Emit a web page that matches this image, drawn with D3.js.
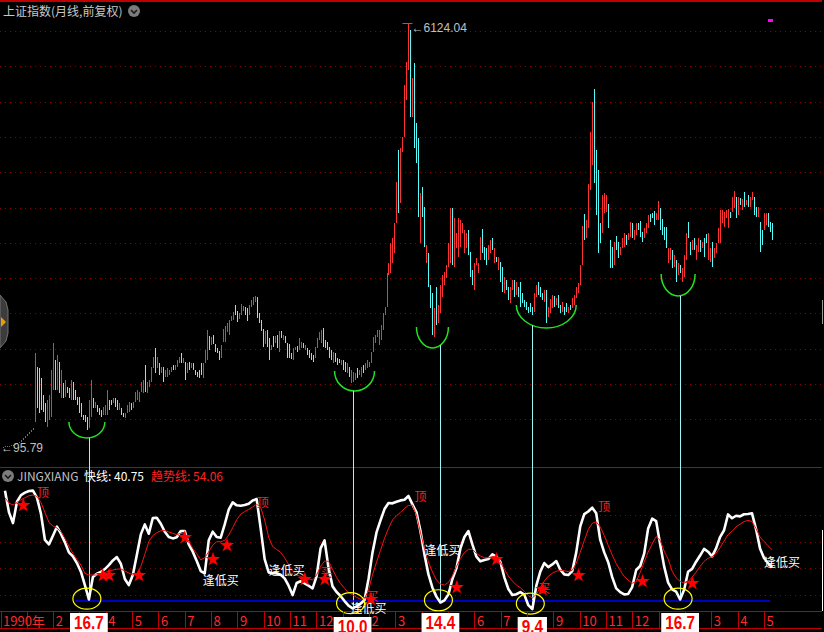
<!DOCTYPE html>
<html>
<head>
<meta charset="utf-8">
<script src="https://cdn.jsdelivr.net/npm/d3@7"></script>
<style>
  html, body { margin: 0; padding: 0; background: #000; overflow: hidden; }
  svg { display: block; }
  text { font-family: "Liberation Sans", "Noto Sans CJK SC", sans-serif; }
  .cjk { font-family: "Noto Sans CJK SC", "Liberation Sans", sans-serif; }
</style>
</head>
<body>
<svg id="chart"></svg>
<script>
// ---- monthly candles, 上证指数 (月线, 前复权) ----
const opens = [
  95.79,100,104,108,113,118,124,139,153,167,196,224,253,281,309,338,
  451,1234,1219,1077,835,722,380,480,523,907,1333,907,1305,793,1006,807,949,935,764,1020,
  907,807,807,722,551,551,523,366,523,793,651,693,651,622,551,551,551,764,764,722,
  793,764,622,651,579,508,579,594,722,651,736,764,736,878,864,1262,864,949,1020,1219,
  1504,1219,1290,1148,1234,1091,1091,1120,1162,1262,1191,1234,1290,1433,1290,1305,1148,1305,1219,1290,
  1191,1162,1191,1290,1077,1290,
  1333,1674,1546,1688,1560,1504,1461,1361,1589,1589,1731,1688,1888,1902,2115,2030,1916,1973,2030,2087,
  2072,1973,2087,2115,2158,2229,2001,1902,1774,1560,1760,1646,1475,1674,1575,1688,1447,1746,1617,1674,
  1575,1560,1433,1333,1475,1532,
  1475,1504,1575,1475,1504,1475,1433,1404,1361,1504,1617,1575,1788,1617,1589,1518,1475,1290,1433,1361,
  1347,1262,1333,1305,1148,1234,1006,1020,1049,1219,1120,1091,1262,1191,1219,1234,1290,1447,1575,1660,
  1546,1617,1759,1973,2087,2541,2570,2712,2855,3281,4319,3566,4291,4504,5030,5457,6025,4788,5556,4703,
  4490,2997,3793,3509,2712,2855,2399,2286,1660,2371,1859,2001,2229,2399,2499,2655,2712,3494,2655,2925,
  2798,2940,3139,2855,2925,3182,2869,2613,2328,2684,2570,2755,3196,2940,2926,2755,2855,3068,2712,2798,
  2613,2726,2655,2286,2470,2371,2143,2328,2470,2257,2371,2442,2286,2186,2158,2087,2143,2087,
  2016,2229,2442,2371,2286,2158,2328,1945,2001,2072,2243,2115,2257,2115,2016,2087,2143,2001,2115,2072,
  2115,2215,2286,2399,2684,3409,3068,3210,3750,4106,5186,4319,4035,3281,3139,3423,3437,3551,3039,2940,
  2684,3096,3011,2826,2926,2940,3110,3039,3082,3281,3039,3110,3281,3309,3153,3068,3139,3210,3409,3423,
  3452,3324,3324,3494,3338,3224,3224,2712,2755,2897,2655,2755,2541,2684,2442,2513,2755,3295,3011,2897,
  3068,2755,2869,3039,2926,3068,3125,2755,2726,3011,2783,2855,2997,2997,3281,3224,3352,3210,3437,3437,
  3494,3651,3395,3636,3466,3722,3537,3679,3509,3608,3651,3509,3367,3295,3182,3182,3253,3423,3295,3281
];
const closes = [
  100,104,108,113,118,124,139,153,167,196,224,253,281,309,338,366,
  1433,651,579,622,594,451,764,835,1191,1575,907,1404,864,1191,793,1049,864,793,1049,764,
  764,693,579,523,480,451,338,764,1049,651,736,594,551,523,665,693,907,622,693,793,
  665,622,722,551,523,579,693,736,622,736,878,907,878,1020,1049,878,1020,1049,1234,1376,
  1148,1376,1120,1234,1020,1191,1219,1191,1234,1191,1262,1333,1376,1290,1361,1049,1290,1191,1290,1191,
  1120,1091,1077,1120,1290,1475,
  1759,1475,1660,1560,1447,1433,1333,1546,1774,1817,1859,1902,1959,2016,1973,1873,2001,2129,2101,1973,
  1888,2115,2186,2229,2243,1930,1859,1746,1518,1746,1518,1333,1546,1518,1674,1504,1746,1646,1688,1575,
  1361,1361,1347,1504,1518,1447,
  1646,1589,1504,1546,1404,1361,1333,1305,1518,1646,1731,1760,1518,1504,1475,1361,1333,1447,1305,1262,
  1290,1333,1191,1162,1290,1091,1191,1162,1148,1077,1191,1234,1148,1290,1333,1305,1447,1660,1688,1759,
  1759,1831,2001,2087,2570,2712,2996,3068,3281,3864,3423,4348,4504,5243,5570,6124.04,4788,5343,4348,4135,
  3367,3708,3367,2940,2968,2371,2072,1689,2072,1831,2115,2399,2541,2584,2684,2997,3494,2684,3352,3139,
  3352,3324,3281,3182,3139,2826,2513,2399,2712,2783,2712,3082,2855,2755,2684,2968,3039,2897,2926,2726,
  2798,2442,2300,2513,2328,2186,2371,2470,2229,2442,2229,2087,2143,2087,2044,2001,2016,1973,
  2286,2399,2257,2229,2186,2328,1859,2087,2200,2257,2087,2215,2072,2001,2158,1973,2016,2087,2044,2215,
  2257,2371,2428,2684,3238,3039,3324,3835,4575,5001,3850,3395,2855,2997,3679,3708,3679,3210,2641,2641,
  3011,2897,2783,2940,3068,3139,2968,3139,3295,3068,3182,3281,3182,3082,3011,3210,3281,3395,3295,3352,
  3253,3423,3594,3182,3110,3039,2926,2926,2926,2641,2826,2442,2712,2570,2641,2826,3139,3068,2826,3039,
  2897,2968,3068,2869,3011,2798,2997,3139,2926,2655,2926,2997,3210,3466,3466,3437,3466,3480,3352,3651,
  3736,3352,3651,3537,3622,3509,3608,3509,3651,3722,3395,3367,3509,2869,2968,3423,3423,3224,3153,3039
];

// green bottom arcs: centre month, price at arc ends / arc bottom, half width in months
const arcCenter = [42, 176, 215, 272, 338];
const arcTopPrice = [451, 1177, 1802, 2115, 2556];
const arcBottomPrice = [224, 892, 1504, 1788, 2243];
const arcHalf = [9, 10, 8, 15, 8.5];

// ---- JINGXIANG indicator, one value every 2nd month (months 1,3,5,...) ----
const fastLine = [
  98.3,82,74,90,95,96.8,98,98.3,93,81, 61.3,58,64.5,71.3,66,59.5,52,49,44,37.5,
  27.5,16.7,33.5,36,37.3,39.5,42.5,46,48.5,43.5, 32,27.5,35,50,65.5,73,66,77.8,78,73.5,
  67.5,63.5,62.5,63.3,68,68,58,52.5,45.5,38, 36.3,61,67.5,63.5,63,73,84,89.5,87.3,87,
  87.5,88.5,91,92,70,47,37,36.3,36.3,35.2, 32.5,27,20,29,30.3,28.8,27,25,34,55,
  61,40,26.5,22.3,19.3,15.5,12,10.0,11.5,13.5, 16.3,32,52,67,76,84.5,89,88.8,90,91,
  91.5,94.3,88,82,68,50.5,35.5,25.5,18.8,14.4, 16,20.5,32,40,55,63.5,68,58,48.8,45.3,
  46.3,47,50.5,48.8,45,33.3,24.5,20,20.6,22.2, 20.3,12.4,9.4,27,37.6,44,41,43,45.5,39,
  35.5,35,38,52,71.5,80.7,82.7,85.5,81.3,61.5, 52,44.6,33.4,25,22.2,20.5,20.8,26,38.8,41.8,
  51,70,77.3,75.5,58,41.5,29.3,24.3,22.5,16.7, 24,37.5,39.6,45,49.6,54.6,52.5,49,55,63.5,
  68.6,80.5,77.6,79.5,79,80.6,80.8,81.3,69.5,55, 47.8,44,40.75
];
const trendLine = [
  93,89,87.5,89.5,91.5,93,94.5,95,94,89.5, 82,74.5,71.8,70.3,67.5,62.5,56.5,51.3,46.8,42.5,
  36.3,35,35,35,35.3,36.9,38,38.8,39.4,39.6, 38,36.5,35,36,41.5,50.5,60,64.6,66.8,68.2,
  68.4,67.3,66.3,65.3,66.3,65.5,60.5,55,51,46.4, 48,52.5,57.5,60,60,61,65,70.5,76.5,80.6,
  82.6,84.2,86.1,88.1,85.7,76.3,63.5,56.4,54.2,52, 48,42.8,37.8,34.9,34,32.9,32.1,31.3,35,41.5,
  45.5,45.3,39.3,33.2,28.6,25,22,20.2,18.3,16.8, 17.5,23.5,35.3,44.6,53.5,62.5,70,76.3,79.5,82,
  85,87.2,87.5,80,67,54.8,44.8,37.3,31.3,28.2, 27.5,29.5,34.3,41.3,47.3,51.8,54.3,54.3,51.3,49.3,
  48,48,48.8,48.8,44.8,39.3,34.3,30.5,27.5,25.5, 22.8,19.6,17.8,20.5,25.5,30.5,34.1,36.3,37.8,38.6,
  38.3,37.5,38.6,43.8,52,60.8,69.2,73.8,75,71, 64.8,57.3,50,43.6,38.5,34,31.1,28.9,30,37,
  44.8,52.3,58.3,63.8,61,53,47,37.9,32.9,30.3, 29,30.1,33.3,37.2,41.4,45.2,47.6,48.7,51.3,55.5,
  60.5,65.3,67.8,71.1,73.2,75.1,76,75.2,69.8,63.5, 60.2,57,54.06
];
const lowMarks = [21, 87, 109, 132, 169];   // positions in fastLine of the marked lows
const lowLineValue = 15.5;
const lowLineFrom = 36;

const starMonth = [10, 50, 53, 68, 91, 105, 112, 151, 161, 184, 227, 247, 270, 288, 320, 345];
const starValue = [89, 35.8, 35.8, 36.5, 65, 47.8, 58.3, 32.8, 33.5, 18.5, 26.8, 48.5, 25.3, 36.5, 31.3, 29.8];
const topMonth = [20, 130, 209, 301];
const topValue = [97.3, 89.8, 94.3, 86.8];
const buyMonth = [100, 133, 174, 211, 381];
const buyValue = [32, 39.5, 11, 53.8, 45.5];
const signMonth = [162, 185, 271];
const signValue = [38, 20, 26];

// time axis labels (slot -> text)
const axisSlots = [0, 2, 4, 5, 6, 7, 8, 9, 10, 11, 12, 14, 15, 18, 19, 21, 22, 23, 24, 25, 27, 28, 29];
const axisText = ['1990年','2','4','5','6','7','8','9','10','11','12','2','3','6','7','9','10','11','12','1','3','4','5'];

// ---------------------------------------------------------------
const W = 824, H = 632;
const svg = d3.select('#chart').attr('width', W).attr('height', H);

const x = d3.scaleLinear().domain([0, opens.length - 1]).range([3, 772]);
const yPrice = d3.scaleLinear().domain([95.79, 6124.04]).range([447, 23]);
const yInd = d3.scaleLinear().domain([0, 100]).range([621.7, 488.4]);
const xSlot = d3.scaleLinear().domain([0, 29]).range([0.5, 764]);
const fastMonth = k => 2 * k + 1;

// grid + frame
const grid = svg.append('g').attr('shape-rendering', 'crispEdges');
grid.selectAll('.gu').data(d3.range(12).map(k => 31 + k * 35.3)).join('line')
    .attr('x1', 0).attr('x2', 822)
    .attr('y1', d => Math.round(d) + .5).attr('y2', d => Math.round(d) + .5)
    .attr('stroke', '#8a0000').attr('stroke-dasharray', '1,4');
grid.selectAll('.gl').data([20, 40, 60, 80]).join('line')
    .attr('x1', 0).attr('x2', 822)
    .attr('y1', d => Math.round(yInd(d)) + .5).attr('y2', d => Math.round(yInd(d)) + .5)
    .attr('stroke', '#8a0000').attr('stroke-dasharray', '1,4');
[[0.5, 822], [467.5, 822], [611.5, 822], [628.5, 822]].forEach(([yy, x2]) => {
  grid.append('line').attr('x1', 0).attr('x2', x2).attr('y1', yy).attr('y2', yy)
      .attr('stroke', '#c00000').attr('stroke-width', yy < 1 ? 2 : 1);
});
grid.append('rect').attr('x', 768).attr('y', 19).attr('width', 5).attr('height', 3).attr('fill', '#ff00ff');
grid.append('line').attr('x1', 822.5).attr('x2', 822.5).attr('y1', 530).attr('y2', 611).attr('stroke', '#ffffff');
grid.append('line').attr('x1', 822.5).attr('x2', 822.5).attr('y1', 300).attr('y2', 324).attr('stroke', '#9a9a9a');

// left handle
svg.append('path').attr('d', 'M0,295 L6,302 L8,310 L8,333 L6,341 L0,348 Z')
    .attr('fill', '#3c3c3c').attr('stroke', '#707070');
svg.append('path').attr('d', 'M1,317 L6,322 L1,327 Z').attr('fill', '#e8a000');

// candles
const candles = opens.map((o, i) => ({ i, o, c: closes[i] }));
svg.append('g').attr('shape-rendering', 'crispEdges')
  .selectAll('rect').data(candles).join('rect')
    .attr('x', d => Math.round(x(d.i)))
    .attr('width', 1)
    .attr('y', d => yPrice(Math.max(d.o, d.c)))
    .attr('height', d => Math.max(1, Math.abs(yPrice(d.o) - yPrice(d.c))))
    .attr('fill', d => d.c >= d.o ? '#ff3232' : '#54fcfc');

// extreme labels
const peakI = d3.maxIndex(closes);
const peak = closes[peakI];
svg.append('line').attr('x1', x(peakI) - 6).attr('x2', x(peakI) + 4)
    .attr('y1', yPrice(peak) + .5).attr('y2', yPrice(peak) + .5).attr('stroke', '#ff3232');
svg.append('text').attr('x', x(peakI) + 3).attr('y', yPrice(peak) + 9)
    .attr('fill', '#c0c0c0').attr('font-size', 12).text('←' + peak.toFixed(2));
svg.append('text').attr('x', 1).attr('y', yPrice(opens[0]) + 5)
    .attr('fill', '#c0c0c0').attr('font-size', 12).text('←' + opens[0].toFixed(2));

// green arcs
const arcs = arcCenter.map((c, j) => {
  const cx = x(c), rx = x(arcHalf[j]) - x(0);
  const ty = yPrice(arcTopPrice[j]), by = yPrice(arcBottomPrice[j]);
  return { cx, rx, ty, ry: by - ty };
});
svg.append('g').selectAll('path').data(arcs).join('path')
    .attr('d', a => `M${a.cx - a.rx},${a.ty} A${a.rx},${a.ry} 0 0 0 ${a.cx + a.rx},${a.ty}`)
    .attr('fill', 'none').attr('stroke', '#22e022').attr('stroke-width', 1.5);

// connectors from arcs down to the indicator lows
svg.append('g').selectAll('line').data(lowMarks).join('line')
    .attr('x1', k => Math.round(x(fastMonth(k))) + .5)
    .attr('x2', k => Math.round(x(fastMonth(k))) + .5)
    .attr('y1', (k, j) => {
      const a = arcs[j], dx = x(fastMonth(k)) - a.cx;
      return Math.abs(dx) < a.rx ? a.ty + a.ry * Math.sqrt(1 - (dx / a.rx) ** 2) : a.ty;
    })
    .attr('y2', k => yInd(fastLine[k]))
    .attr('stroke', '#9ff5f5').attr('stroke-width', 1);

// indicator panel
svg.append('line')
    .attr('x1', x(lowLineFrom)).attr('x2', x(fastMonth(fastLine.length - 1)) - 2)
    .attr('y1', yInd(lowLineValue)).attr('y2', yInd(lowLineValue))
    .attr('stroke', '#0000ff').attr('stroke-width', 1.5);

const line = d3.line().x((d, k) => x(fastMonth(k))).y(d => yInd(d));
svg.append('path').datum(fastLine).attr('d', line)
    .attr('fill', 'none').attr('stroke', '#ffffff').attr('stroke-width', 2.6)
    .attr('stroke-linejoin', 'round');
svg.append('path').datum(trendLine).attr('d', line)
    .attr('fill', 'none').attr('stroke', '#ff1010').attr('stroke-width', 1);

// marks
const marks = svg.append('g');
marks.selectAll('.top').data(topMonth).join('text').attr('class', 'cjk')
    .attr('x', d => x(d)).attr('y', (d, j) => yInd(topValue[j]))
    .attr('text-anchor', 'middle').attr('dominant-baseline', 'central')
    .attr('font-size', 12).attr('fill', '#ff2020').text('顶');
marks.selectAll('.sign').data(signMonth).join('text').attr('class', 'cjk')
    .attr('x', d => x(d)).attr('y', (d, j) => yInd(signValue[j]))
    .attr('text-anchor', 'middle').attr('dominant-baseline', 'central')
    .attr('font-size', 12).attr('fill', '#ff2020').text('买');
marks.selectAll('.buy').data(buyMonth).join('text').attr('class', 'cjk')
    .attr('x', d => x(d)).attr('y', (d, j) => yInd(buyValue[j]))
    .attr('dominant-baseline', 'central')
    .attr('font-size', 12).attr('fill', '#ffffff').text('逢低买');
marks.selectAll('.star').data(starMonth).join('text')
    .attr('x', d => x(d)).attr('y', (d, j) => yInd(starValue[j]) + 1)
    .attr('text-anchor', 'middle').attr('dominant-baseline', 'central')
    .attr('font-family', 'DejaVu Sans').attr('font-size', 15).attr('fill', '#ff0000').text('★');

marks.selectAll('ellipse').data(lowMarks).join('ellipse')
    .attr('cx', k => x(fastMonth(k)) - 2)
    .attr('cy', k => (yInd(fastLine[k]) + 598) / 2)
    .attr('rx', 14).attr('ry', 10.5)
    .attr('fill', 'none').attr('stroke', '#ffff00').attr('stroke-width', 1.2);

// time axis
const axis = svg.append('g').attr('shape-rendering', 'crispEdges');
axis.selectAll('line').data(d3.range(30)).join('line')
    .attr('x1', s => Math.round(xSlot(s)) + .5).attr('x2', s => Math.round(xSlot(s)) + .5)
    .attr('y1', 611).attr('y2', 628).attr('stroke', '#c00000');
axis.selectAll('text').data(axisSlots).join('text').attr('class', 'cjk')
    .attr('x', s => xSlot(s) + 2.5).attr('y', 626)
    .attr('font-size', 13).attr('fill', '#ff2a2a')
    .text((s, j) => axisText[j]);

// value boxes under the marked lows
lowMarks.forEach(k => {
  const v = fastLine[k];
  const cx = x(fastMonth(k));
  const top = v < 12 ? 617 : 613;
  const g = svg.append('g');
  const r = g.append('rect').attr('fill', '#ffffff');
  const t = g.append('text').attr('x', cx).attr('y', top + 16)
      .attr('text-anchor', 'middle').attr('font-weight', 'bold')
      .attr('font-size', 18).attr('fill', '#ff0000').text(v.toFixed(1));
  const tw = t.node().getComputedTextLength() * 0.85;
  t.attr('textLength', tw).attr('lengthAdjust', 'spacingAndGlyphs');
  r.attr('x', cx - tw / 2 - 4).attr('y', top).attr('width', tw + 8).attr('height', H - top);
});

// headers
svg.append('text').attr('class', 'cjk').attr('x', 3).attr('y', 16)
    .attr('font-size', 12).attr('fill', '#c8c8c8').text('上证指数(月线,前复权)');
[[134, 11], [8, 476]].forEach(([cx, cy]) => {
  svg.append('circle').attr('cx', cx).attr('cy', cy).attr('r', 6).attr('fill', '#7c7c7c');
  svg.append('path').attr('d', `M${cx - 3},${cy - 1} L${cx},${cy + 2} L${cx + 3},${cy - 1}`)
      .attr('fill', 'none').attr('stroke', '#1a1a1a').attr('stroke-width', 1.6);
});
const hdr = svg.append('text').attr('class', 'cjk').attr('y', 481).attr('font-size', 12);
hdr.append('tspan').attr('x', 17).attr('fill', '#c0c0c0').text('JINGXIANG');
hdr.append('tspan').attr('x', 84).attr('fill', '#ffffff')
    .text('快线: ' + fastLine[fastLine.length - 1].toFixed(2));
hdr.append('tspan').attr('x', 151).attr('fill', '#ff2020')
    .text('趋势线: ' + trendLine[trendLine.length - 1].toFixed(2));
</script>
</body>
</html>
